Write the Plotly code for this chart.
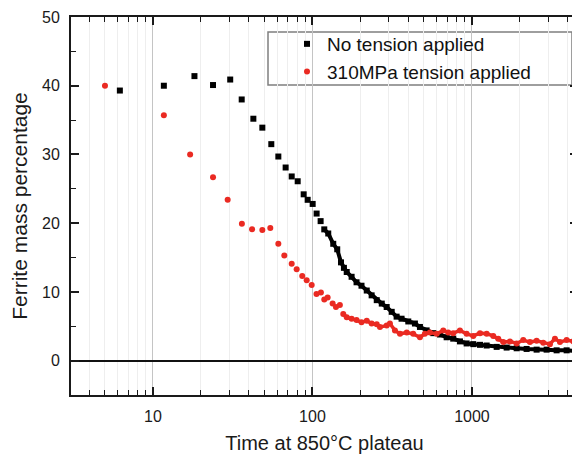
import plotly.graph_objects as go

# ---- data ----
# No tension applied (black squares): sparse early readings
t_none_sparse = [6.2, 11.7, 18.2, 23.8, 30.5, 36.0, 42.6, 48.5, 55.2, 61.1, 67.9, 74.1,
                 80.8, 88.1, 93.3, 100.3, 106.2, 112.5]
y_none_sparse = [39.3, 40.0, 41.4, 40.1, 40.9, 38.0, 35.2, 33.9, 31.5, 29.7, 28.1, 26.8,
                 26.1, 24.2, 23.4, 22.8, 21.4, 20.3]
# No tension applied: dense later readings
t_none_dense = [118.6, 125.6, 135, 143, 151, 157.5, 164, 176, 189, 203, 219, 235, 253, 272,
                292, 314, 337, 362, 399, 439, 472, 520, 572, 630, 694, 763, 841, 926, 1019,
                1123, 1237, 1429, 1651, 1907, 2202, 2544, 2939, 3396, 3924, 4533]
y_none_dense = [19.1, 18.5, 17.0, 16.2, 14.3, 13.5, 12.9, 12.2, 11.4, 10.9, 10.2, 9.5, 8.8, 8.3,
                7.8, 7.1, 6.4, 6.1, 5.7, 5.4, 4.9, 4.4, 4.0, 3.8, 3.4, 3.2, 2.8, 2.5, 2.4,
                2.3, 2.2, 2.0, 1.9, 1.8, 1.7, 1.6, 1.6, 1.5, 1.5, 1.4]

# 310MPa tension applied (red circles): sparse early readings
t_ten_sparse = [5.0, 11.7, 17.1, 23.8, 29.4, 36.1, 41.8, 48.5, 54.4, 61.1, 66.6, 74.1, 79.6,
                86.3, 92.0, 98.9, 106.0, 113.0, 118.6, 124.5, 133.8, 140.4, 148.6]
y_ten_sparse = [40.0, 35.7, 30.0, 26.7, 23.4, 19.9, 19.1, 19.0, 19.3, 17.0, 15.3, 14.1, 13.3,
                12.3, 11.7, 11.0, 9.7, 9.9, 8.9, 9.2, 8.3, 7.8, 8.1]
# 310MPa tension applied: dense later readings
t_ten_dense = [156, 164, 176, 189, 203, 219, 235, 253, 265, 292, 306, 329, 354, 390, 428, 472,
               507, 545, 601, 661, 710, 763, 841, 926, 1019, 1123, 1237, 1360, 1462, 1572,
               1731, 1907, 2097, 2310, 2544, 2799, 3083, 3314, 3563, 3924, 4316, 4639]
y_ten_dense = [6.8, 6.3, 6.1, 5.9, 5.6, 5.8, 5.4, 5.3, 4.9, 5.1, 5.4, 4.4, 3.9, 4.1, 3.9, 3.4,
               3.9, 4.1, 3.9, 4.4, 4.1, 4.0, 4.4, 3.9, 3.6, 4.0, 3.9, 3.6, 3.2, 2.7,
               2.8, 2.5, 3.0, 2.7, 2.9, 2.6, 2.4, 3.2, 2.7, 3.0, 2.8, 2.5]

series_names = ["No tension applied", "310MPa tension applied"]
x_tick_vals = [10, 100, 1000]
x_tick_text = ["10", "100", "1000"]
y_tick_vals = [0, 10, 20, 30, 40, 50]

BLACK = "#000000"
RED = "#ea2a22"
FONT = "Liberation Sans, Arial, sans-serif"

fig = go.Figure()

# dense parts first (drawn under)
fig.add_trace(go.Scatter(x=t_none_dense, y=y_none_dense, mode="lines+markers",
                         line=dict(color=BLACK, width=4),
                         marker=dict(symbol="square", size=6, color=BLACK),
                         showlegend=False, hoverinfo="skip"))
fig.add_trace(go.Scatter(x=t_ten_dense, y=y_ten_dense, mode="lines+markers",
                         line=dict(color=RED, width=3.5),
                         marker=dict(symbol="circle", size=6, color=RED),
                         showlegend=False, hoverinfo="skip"))
fig.add_trace(go.Scatter(x=t_none_sparse, y=y_none_sparse, mode="markers",
                         name=series_names[0],
                         marker=dict(symbol="square", size=6, color=BLACK)))
fig.add_trace(go.Scatter(x=t_ten_sparse, y=y_ten_sparse, mode="markers",
                         name=series_names[1],
                         marker=dict(symbol="circle", size=6, color=RED)))

# the page places the figure 8px from the window's top-left corner
OFF = 8
W, H = 580 - OFF, 458 - OFF
# plot area in window pixels: x 71..578, y 17..395
L, R, T, B = 71 - OFF, 580 - 578, 17 - OFF, 458 - 395
pw, ph = W - L - R, H - T - B

def px_x(p):
    return (p - OFF - L) / pw

def px_y(p):
    return (H - B - (p - OFF)) / ph

# legend frame
fig.add_shape(type="rect", xref="paper", yref="paper",
              x0=px_x(268), x1=px_x(572), y0=px_y(85), y1=px_y(32),
              line=dict(color="#7f7f7f", width=1.5), fillcolor="white", layer="between")

fig.update_layout(
    width=W, height=H,
    margin=dict(l=L, r=R, t=T, b=B),
    paper_bgcolor="white", plot_bgcolor="white",
    font=dict(family=FONT, color="#1a1a1a", size=16),
    legend=dict(x=px_x(287), y=px_y(25), xanchor="left", yanchor="top",
                bgcolor="rgba(0,0,0,0)", borderwidth=0,
                font=dict(size=19, family=FONT, color="#111111"),
                itemwidth=30),
    showlegend=True,
)

fig.update_xaxes(
    type="log", range=[0.486, 3.665],
    tickmode="array", tickvals=x_tick_vals, ticktext=x_tick_text,
    ticks="inside", ticklen=8, tickwidth=1.5, tickcolor="#1a1a1a",
    showline=True, linecolor="#1a1a1a", linewidth=2, mirror="ticks",
    showgrid=True, gridcolor="#c4c4c4", gridwidth=1,
    minor=dict(dtick="D1", ticks="inside", ticklen=5, tickwidth=1.2, tickcolor="#1a1a1a",
               showgrid=True, gridcolor="#eeeeee", gridwidth=1),
    zeroline=False,
    tickfont=dict(size=16, family=FONT, color="#1a1a1a"),
    ticklabelstandoff=6,
    title=dict(text="Time at 850°C plateau", font=dict(size=20, family=FONT, color="#1a1a1a"),
               standoff=12),
    automargin=False,
)

fig.update_yaxes(
    range=[-5, 50],
    tickmode="array", tickvals=y_tick_vals,
    ticks="inside", ticklen=8, tickwidth=1.5, tickcolor="#1a1a1a",
    showline=True, linecolor="#1a1a1a", linewidth=2, mirror="ticks",
    showgrid=False,
    minor=dict(dtick=5, tick0=0, ticks="inside", ticklen=5, tickwidth=1.2, tickcolor="#1a1a1a",
               showgrid=False),
    zeroline=True, zerolinecolor="#111111", zerolinewidth=1.5,
    tickfont=dict(size=16, family=FONT, color="#1a1a1a"),
    ticklabelstandoff=6,
    title=dict(text="Ferrite mass percentage", font=dict(size=21, family=FONT, color="#1a1a1a"),
               standoff=10),
    automargin=False,
)

fig.write_html("out.html")
